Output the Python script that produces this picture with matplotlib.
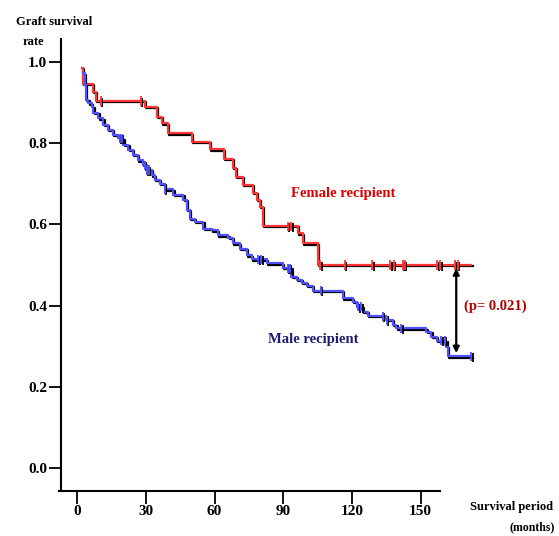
import numpy as np
import matplotlib
matplotlib.use("Agg")
import matplotlib.pyplot as plt
import matplotlib.patheffects as pe

# Kaplan-Meier steps (months, survival)
female_t = [2.0, 2.6, 6.8, 8.3, 29.7, 34.8, 36.9, 39.8, 50.0, 58.0, 64.1,
            68.0, 69.3, 72.5, 76.7, 78.4, 79.8, 81.1, 96.5, 98.7, 105.1]
female_s = [0.985, 0.946, 0.926, 0.904, 0.890, 0.865, 0.849, 0.824, 0.803,
            0.785, 0.762, 0.740, 0.717, 0.697, 0.677, 0.660, 0.643, 0.596,
            0.578, 0.553, 0.500]
female_censor = [10.5, 27.9, 92.1, 93.6, 106.2, 116.9, 128.9, 136.8, 138.3,
                 142.3, 143.0, 157.3, 158.6, 164.8, 166.3]

male_t = [2.75, 3.5, 3.9, 4.9, 6.4, 7.1, 9.3, 11.5, 13.6, 15.8,
          18.0, 20.2, 22.4, 24.5, 26.7, 28.8, 30.5, 32.6, 34.0, 36.2,
          38.4, 42.0, 46.4, 47.8, 49.3, 51.5, 55.1, 58.7, 61.6, 66.0,
          68.0, 71.1, 74.0, 76.3, 82.7, 90.0, 93.6, 95.8, 98.0, 100.2,
          103.0, 116.1, 120.5, 122.0, 124.8, 127.0, 135.0, 137.9, 139.4, 152.5,
          154.7, 156.9, 161.2, 161.9]
male_s = [0.972, 0.943, 0.906, 0.898, 0.890, 0.874, 0.861, 0.845, 0.832, 0.820,
          0.812, 0.795, 0.783, 0.771, 0.758, 0.746, 0.734, 0.721, 0.709, 0.699,
          0.686, 0.672, 0.660, 0.635, 0.614, 0.606, 0.589, 0.585, 0.573, 0.567,
          0.553, 0.540, 0.524, 0.514, 0.504, 0.492, 0.471, 0.463, 0.456, 0.448,
          0.437, 0.418, 0.409, 0.397, 0.385, 0.374, 0.364, 0.352, 0.344, 0.335,
          0.323, 0.314, 0.298, 0.275]
male_censor = [18.8, 19.6, 29.7, 30.5, 31.4, 38.4, 79.1, 80.5, 92.1, 92.9,
               106.3, 122.8, 124.1, 133.6, 135.2, 141.6, 159.0, 160.5, 172.1]

follow_end = 172.1
arrow_t = 165.5
p_text = "(p= 0.021)"

xticks = [0, 30, 60, 90, 120, 150]
yticks = [0.0, 0.2, 0.4, 0.6, 0.8, 1.0]

serif = ["Liberation Serif", "DejaVu Serif"]
red = "#ff3535"
blue = "#5050ff"


def surv_at(t_list, s_list, t):
    idx = np.searchsorted(t_list, t, side="right") - 1
    return np.array(s_list)[np.clip(idx, 0, None)]


fig = plt.figure(figsize=(5.59, 5.36), dpi=100)
ax = fig.add_axes([61 / 559, 1 - 491 / 536, (478 - 61) / 559, (491 - 39) / 536])

shadow = [pe.SimpleLineShadow(offset=(0.9, -0.9), shadow_color="black", alpha=1.0),
          pe.Normal()]

for t, s, cens, col in [(female_t, female_s, female_censor, red),
                        (male_t, male_s, male_censor, blue)]:
    ax.step(np.r_[t, follow_end], np.r_[s, s[-1]], where="post",
            color=col, lw=1.6, path_effects=shadow, zorder=3)
    ax.plot(cens, surv_at(t, s, np.array(cens)), ls="none", marker="|",
            ms=6.5, mew=1.3, color=col, path_effects=shadow, zorder=4)

# double arrow between the two curves at the end of follow-up
y_top = female_s[-1]
y_bot = float(surv_at(male_t, male_s, arrow_t))
ax.annotate("", xy=(arrow_t, y_bot + 0.008), xytext=(arrow_t, y_top - 0.008),
            arrowprops=dict(arrowstyle="<|-|>", color="black", lw=1.6,
                            mutation_scale=9, shrinkA=0, shrinkB=0), zorder=5)

ax.set_xlim(-7, 175)
ax.set_ylim(-0.0567, 1.0567)
for side in ["top", "right"]:
    ax.spines[side].set_visible(False)
ax.spines["left"].set_linewidth(1.5)
ax.spines["bottom"].set_linewidth(1.5)
ax.spines["bottom"].set_bounds(-7.8, 158.3)

ax.set_xticks(xticks)
ax.set_xticklabels([str(v) for v in xticks])
ax.set_yticks(yticks)
ax.set_yticklabels(["%.1f" % v for v in yticks])
ax.tick_params(axis="both", length=9, width=1.3, color="black", pad=1)
for lab in ax.get_xticklabels() + ax.get_yticklabels():
    lab.set_fontfamily(serif)
    lab.set_fontweight("bold")
    lab.set_fontsize(11)


def ftext(x, y, s, **kw):
    # place text by pixel position in the 559x536 figure
    fig.text(x / 559, 1 - y / 536, s, fontfamily=serif, fontweight="bold", **kw)


ftext(343, 194, "Female recipient", color="#dd0000", fontsize=10.5, ha="center", va="center")
ftext(313, 340, "Male recipient", color="#1c1c70", fontsize=10.5, ha="center", va="center")
ftext(495, 306, p_text, color="#b00000", fontsize=10.5, ha="center", va="center")
ftext(54, 22, "Graft survival", color="black", fontsize=9, ha="center", va="center")
ftext(33, 42, "rate", color="black", fontsize=9, ha="center", va="center")
ftext(512, 507, "Survival period", color="black", fontsize=9, ha="center", va="center")
ftext(555, 527, "(months)", color="black", fontsize=8.5, ha="right", va="center")

fig.savefig("out.png", dpi=100)
